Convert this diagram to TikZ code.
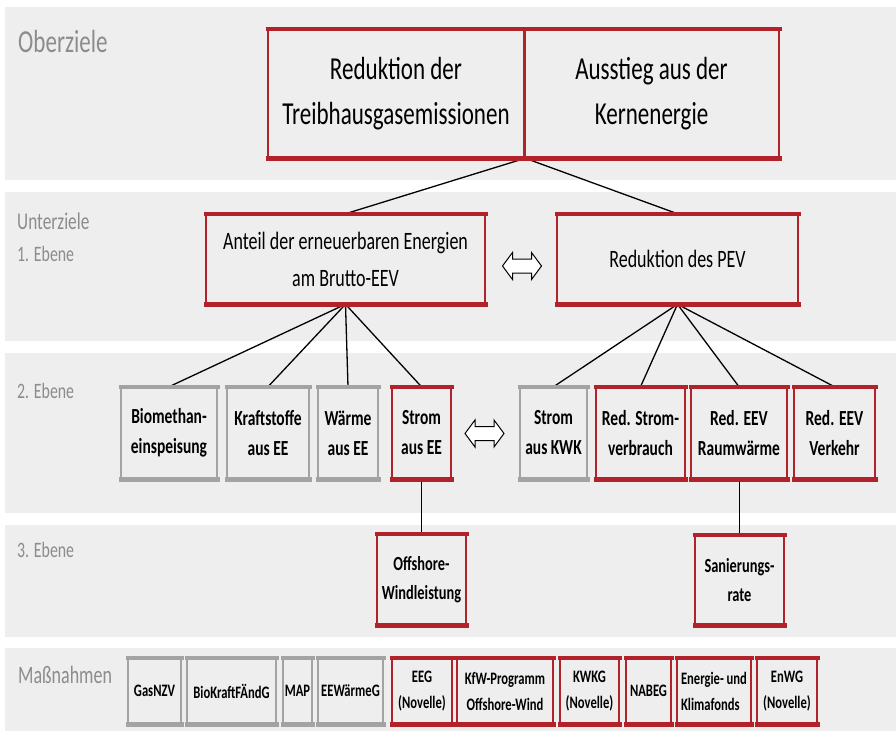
\documentclass[tikz,border=0pt]{standalone}
\usepackage{fontspec}
\setmainfont{Carlito}[FakeStretch=0.72]
\definecolor{bandgray}{HTML}{EEEEEE}
\definecolor{boxred}{HTML}{B2222A}
\definecolor{boxgray}{HTML}{A3A3A3}
\definecolor{labelgray}{HTML}{8C8C8C}
\tikzset{
  band/.style={fill=bandgray, draw=none},
  lbl/.style={anchor=base west, text=labelgray, inner sep=0},
  box/.style={rectangle, fill=bandgray, line width=2.5pt, align=center, inner sep=1pt, text=black},
  redbox/.style={box, draw=boxred},
  graybox/.style={box, draw=boxgray},
  topfont/.style={font=\fontsize{32}{45}\selectfont},
  lonefont/.style={font=\fontsize{25}{37}\selectfont},
  ltwofont/.style={font=\bfseries\fontsize{21.5}{30}\selectfont},
  lthreefont/.style={font=\bfseries\fontsize{20}{29}\selectfont},
  mfont/.style={font=\bfseries\fontsize{17.5}{26}\selectfont},
  conn/.style={draw=black, line width=1.3pt},
  thinconn/.style={draw=black, line width=1pt},
  edgetop/.style={line width=3.5pt, shorten <=-1.25pt, shorten >=-1.25pt},
  edgebot/.style={line width=4.5pt, shorten <=-1.25pt, shorten >=-1.25pt},
  dblarrow/.style={draw=black, fill=white, line width=1pt, line join=miter}
}
\begin{document}
\begin{tikzpicture}[x=1pt,y=-1pt]
\useasboundingbox (0,0) rectangle (896,731);
\fill[white] (0,0) rectangle (896,731);
% bands
\fill[band] (5,7) rectangle (896,180);
\fill[band] (5,192) rectangle (896,341);
\fill[band] (5,353) rectangle (896,513);
\fill[band] (5,525) rectangle (896,637);
\fill[band] (5,648) rectangle (896,731);
% band labels
\node[lbl, font=\fontsize{32}{38}\selectfont] (lOber) at (18,52) {Oberziele};
\node[lbl, font=\fontsize{24}{28}\selectfont] (lUnter) at (17,229) {Unterziele};
\node[lbl, font=\fontsize{22}{26}\selectfont] (lE1) at (17,261) {1. Ebene};
\node[lbl, font=\fontsize{22}{26}\selectfont] (lE2) at (17,398) {2. Ebene};
\node[lbl, font=\fontsize{22}{26}\selectfont] (lE3) at (17,557) {3. Ebene};
\node[lbl, font=\fontsize{25}{30}\selectfont] (lMass) at (18,683) {Maßnahmen};
% top goals
\node[redbox, topfont, minimum width=256, minimum height=127] (thg) at (396,93.5) {Reduktion der\\Treibhausgasemissionen};
\node[redbox, topfont, minimum width=255, minimum height=127] (kern) at (651.5,93.5) {Ausstieg aus der\\Kernenergie};
\draw[boxred, line width=1.5pt] (thg.north east) -- (thg.south east);
\coordinate (junc) at (thg.south east);
% level 1
\node[redbox, lonefont, minimum width=279, minimum height=88] (anteil) at (345.5,259) {Anteil der erneuerbaren Energien\\am Brutto-EEV};
\node[redbox, lonefont, minimum width=241, minimum height=88] (pev) at (677.5,259) {Reduktion des PEV};
\draw[conn] (junc) -- (anteil.north);
\draw[conn] (junc) -- (pev.north);
% level 2
\node[graybox, ltwofont, minimum width=96, minimum height=90] (bio) at (169,433) {Biomethan-\\einspeisung};
\node[graybox, ltwofont, minimum width=82, minimum height=90] (kraft) at (268,433) {Kraftstoffe\\aus EE};
\node[graybox, ltwofont, minimum width=60, minimum height=90] (waerme) at (348,433) {Wärme\\aus EE};
\node[redbox, ltwofont, minimum width=59, minimum height=90] (stromee) at (421.5,433) {Strom\\aus EE};
\node[graybox, ltwofont, minimum width=67, minimum height=90] (kwk) at (553.5,433) {Strom\\aus KWK};
\node[redbox, ltwofont, minimum width=89, minimum height=90] (redstrom) at (640.5,433) {Red. Strom-\\verbrauch};
\node[redbox, ltwofont, minimum width=96, minimum height=90] (raum) at (739,433) {Red. EEV\\Raumwärme};
\node[redbox, ltwofont, minimum width=81, minimum height=90] (verkehr) at (834.5,433) {Red. EEV\\Verkehr};
\foreach \t in {bio,kraft,waerme,stromee} \draw[conn] (anteil.south) -- (\t.north);
\foreach \t in {kwk,redstrom,raum,verkehr} \draw[conn] (pev.south) -- (\t.north);
% level 3
\node[redbox, lthreefont, minimum width=89, minimum height=89] (offshore) at (421.5,579.5) {Offshore-\\Windleistung};
\node[redbox, lthreefont, minimum width=89, minimum height=88] (sanier) at (739.5,580) {Sanierungs-\\rate};
\draw[thinconn] (stromee.south) -- (stromee.south |- offshore.north);
\draw[thinconn] (raum.south) -- (raum.south |- sanier.north);
% double arrows
\foreach \cx/\cy in {522/266, 484.5/433.5}{
  \draw[dblarrow] (\cx-19.5,\cy) -- (\cx-9.5,\cy-13.5) -- (\cx-9.5,\cy-7) -- (\cx+9.5,\cy-7) -- (\cx+9.5,\cy-13.5)
    -- (\cx+19.5,\cy) -- (\cx+9.5,\cy+13.5) -- (\cx+9.5,\cy+7) -- (\cx-9.5,\cy+7) -- (\cx-9.5,\cy+13.5) -- cycle;
}
% measures
\node[graybox, mfont, minimum width=53, minimum height=64] (gasnzv) at (154.5,691) {GasNZV};
\node[graybox, mfont, minimum width=89, minimum height=64] (biokraft) at (231.5,691) {BioKraftFÄndG};
\node[graybox, mfont, minimum width=29, minimum height=64] (map) at (297.5,691) {MAP};
\node[graybox, mfont, minimum width=65, minimum height=64] (eew) at (350.5,691) {EEWärmeG};
\node[redbox, mfont, minimum width=60, minimum height=64] (eeg) at (422,691) {EEG\\(Novelle)};
\node[redbox, mfont, minimum width=96, minimum height=64] (kfw) at (505,691) {KfW-Programm\\Offshore-Wind};
\node[redbox, mfont, minimum width=59, minimum height=64] (kwkg) at (589.5,691) {KWKG\\(Novelle)};
\node[redbox, mfont, minimum width=45, minimum height=64] (nabeg) at (648.5,691) {NABEG};
\node[redbox, mfont, minimum width=74, minimum height=64, align=left] (ekf) at (714,691) {Energie- und\\Klimafonds};
\node[redbox, mfont, minimum width=60, minimum height=64] (enwg) at (787,691) {EnWG\\(Novelle)};
% thicker top and bottom edges
\foreach \n in {thg,kern,anteil,pev,stromee,redstrom,raum,verkehr,offshore,sanier,eeg,kfw,kwkg,nabeg,ekf,enwg}{
  \draw[boxred, edgetop] (\n.north west) -- (\n.north east);
  \draw[boxred, edgebot] (\n.south west) -- (\n.south east);
}
\foreach \n in {bio,kraft,waerme,kwk,gasnzv,biokraft,map,eew}{
  \draw[boxgray, edgetop] (\n.north west) -- (\n.north east);
  \draw[boxgray, edgebot] (\n.south west) -- (\n.south east);
}
\end{tikzpicture}
\end{document}
